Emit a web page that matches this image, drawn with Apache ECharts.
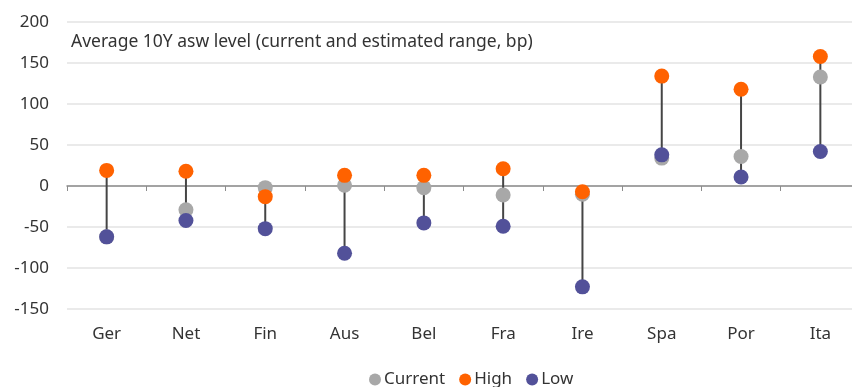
<!DOCTYPE html>
<html>
<head>
<meta charset="utf-8">
<script src="https://cdn.jsdelivr.net/npm/echarts@6/dist/echarts.min.js"></script>
<style>
  html, body { margin: 0; padding: 0; background: #fff; }
  #chart { width: 852px; height: 387px; }
</style>
</head>
<body>
<div id="chart"></div>
<script>
// countries on the x axis
const countries = ['Ger', 'Net', 'Fin', 'Aus', 'Bel', 'Fra', 'Ire', 'Spa', 'Por', 'Ita']
// average 10Y asw level, bp
const current = [-62, -29, -2, 1, -2, -11, -10, 34, 36, 133]
const high = [19, 18, -13, 13, 13, 21, -7, 134, 118, 158]
const low = [-62, -42, -52, -82, -45, -49, -123, 38, 11, 42]

const font = 'Noto Sans'
const textColor = '#333'

const chart = echarts.init(document.getElementById('chart'))

const option = {
  animation: false,
  textStyle: { fontFamily: font },
  title: {
    text: 'Average 10Y asw level (current and estimated range, bp)',
    left: 66,
    top: 28,
    textStyle: { fontFamily: font, fontSize: 17.5, fontWeight: 'normal', color: textColor }
  },
  legend: {
    left: 364,
    top: 366,
    itemWidth: 12,
    itemHeight: 12,
    itemGap: 14,
    icon: 'circle',
    textStyle: { fontFamily: font, fontSize: 17, color: textColor, padding: [0, 0, 0, -2] },
    data: ['Current', 'High', 'Low']
  },
  grid: { left: 67, width: 793, top: 22, bottom: 78, outerBoundsMode: 'none' },
  xAxis: [
    {
      type: 'category',
      data: countries,
      position: 'bottom',
      axisLine: { show: false, onZero: false },
      axisTick: { show: false },
      axisLabel: { fontSize: 17, color: textColor, margin: 17 }
    },
    {
      type: 'category',
      data: countries,
      position: 'bottom',
      axisLine: { show: true, onZero: true, lineStyle: { color: '#8c8c8c', width: 1.5 } },
      axisTick: { show: true, length: 5, lineStyle: { color: '#8c8c8c' } },
      axisLabel: { show: false }
    }
  ],
  yAxis: {
    type: 'value',
    min: -150,
    max: 200,
    interval: 50,
    axisLine: { show: false },
    axisTick: { show: false },
    axisLabel: { fontSize: 17, color: textColor, margin: 18 },
    splitLine: { lineStyle: { color: '#e3e3e3', width: 1.5 } }
  },
  series: [
    {
      name: 'Range',
      type: 'custom',
      xAxisIndex: 0,
      data: countries.map((c, i) => [i, low[i], high[i]]),
      renderItem: function (params, api) {
        const a = api.coord([api.value(0), api.value(1)])
        const b = api.coord([api.value(0), api.value(2)])
        return {
          type: 'line',
          shape: { x1: a[0], y1: a[1], x2: b[0], y2: b[1] },
          style: { stroke: '#454545', lineWidth: 2 }
        }
      }
    },
    {
      name: 'Current',
      type: 'scatter',
      symbolSize: 15,
      itemStyle: { color: '#a8a8a8', opacity: 1 },
      data: current
    },
    {
      name: 'High',
      type: 'scatter',
      symbolSize: 15,
      itemStyle: { color: '#ff6200', opacity: 1 },
      data: high
    },
    {
      name: 'Low',
      type: 'scatter',
      symbolSize: 15,
      itemStyle: { color: '#525199', opacity: 1 },
      data: low
    }
  ]
}

chart.setOption(option)
</script>
</body>
</html>
